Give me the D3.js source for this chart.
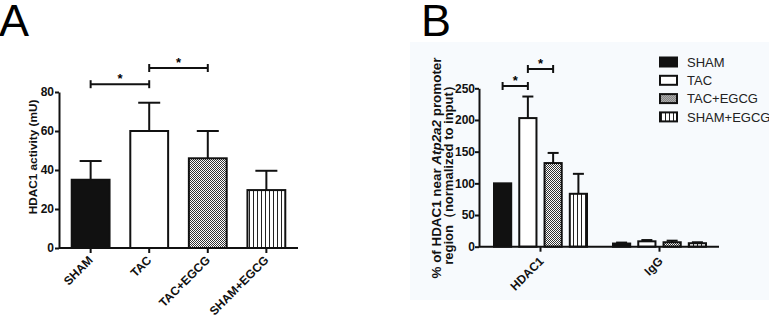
<!DOCTYPE html>
<html>
<head>
<meta charset="utf-8">
<script src="https://cdn.jsdelivr.net/npm/d3@7"></script>
<style>
  body { margin: 0; background: #fff; }
  svg { display: block; font-family: "Liberation Sans", Arial, sans-serif; }
</style>
</head>
<body>
<div id="chart"></div>
<script>
// ---- data ----
const groups = ["SHAM", "TAC", "TAC+EGCG", "SHAM+EGCG"];

// panel A: HDAC1 activity (mU)
const activityMean = [35, 60, 46, 29.7];
const activityErr = [44.6, 74.5, 60, 39.6];
const activityTicks = [0, 20, 40, 60, 80];
const activitySig = [["SHAM", "TAC", 84], ["TAC", "TAC+EGCG", 92.3]];

// panel B: ChIP, % of HDAC1 near Atp2a2 promoter
const chipTargets = ["HDAC1", "IgG"];
const chipHDAC1 = [100, 203, 132, 83.5];
const chipHDAC1Err = [100, 237, 148, 115];
const chipIgG = [5, 8.5, 7, 5.5];
const chipIgGErr = [6.5, 10.5, 9.5, 7];
const chipTicks = [0, 50, 100, 150, 200, 250];
const chipSig = [["SHAM", "TAC", 253.6], ["TAC", "TAC+EGCG", 280.5]];

const W = 769, H = 318;
const svg = d3.select("#chart").append("svg")
    .attr("width", W)
    .attr("height", H);

// patterns
const defs = svg.append("defs");
let checker = defs.append("pattern")
    .attr("id", "checker")
    .attr("width", 2).attr("height", 2)
    .attr("patternUnits", "userSpaceOnUse");
checker.append("rect").attr("width", 2).attr("height", 2).attr("fill", "#fff");
checker.append("rect").attr("width", 1).attr("height", 1).attr("fill", "#333");
checker.append("rect").attr("x", 1).attr("y", 1).attr("width", 1).attr("height", 1).attr("fill", "#333");

let stripes = defs.append("pattern")
    .attr("id", "stripes")
    .attr("width", 4).attr("height", 4)
    .attr("patternUnits", "userSpaceOnUse");
stripes.append("rect").attr("width", 4).attr("height", 4).attr("fill", "#fff");
stripes.append("rect").attr("x", 1).attr("width", 1).attr("height", 4).attr("fill", "#222");

const fills = d3.scaleOrdinal()
    .domain(groups)
    .range(["#111", "#fff", "url(#checker)", "url(#stripes)"]);

function sigBracket(g, x, y, pairs, capH, starSize) {
    pairs.forEach(p => {
        let x1 = x(p[0]), x2 = x(p[1]), yy = y(p[2]);
        g.append("line").attr("x1", x1).attr("x2", x2).attr("y1", yy).attr("y2", yy);
        g.append("line").attr("x1", x1).attr("x2", x1).attr("y1", yy - capH).attr("y2", yy + capH);
        g.append("line").attr("x1", x2).attr("x2", x2).attr("y1", yy - capH).attr("y2", yy + capH);
        g.append("text")
            .attr("x", (x1 + x2) / 2)
            .attr("y", yy - 1)
            .attr("text-anchor", "middle")
            .attr("stroke", "none")
            .attr("fill", "#000")
            .style("font-size", starSize + "px")
            .style("font-weight", "bold")
            .text("*");
    });
    g.attr("stroke", "#111").attr("stroke-width", 2);
}

function styleAxis(ax) {
    ax.select(".domain").attr("stroke", "#111").attr("stroke-width", 2);
    ax.selectAll(".tick line").attr("stroke", "#111").attr("stroke-width", 2);
}

// ================= Panel A =================
svg.append("text")
    .attr("x", -1).attr("y", 36)
    .style("font-size", "45px")
    .text("A");

let xA = d3.scaleBand()
    .domain(groups)
    .range([59, 298])
    .paddingInner(0.32)
    .paddingOuter(0.2);

let yA = d3.scaleLinear()
    .domain([0, 80])
    .range([248, 92]);

let gA = svg.append("g");

let dataA = groups.map((k, i) => ({key: k, v: activityMean[i], e: activityErr[i]}));

// error bars
gA.selectAll(".errA").data(dataA).enter().append("g")
    .each(function(d) {
        let cx = xA(d.key) + xA.bandwidth() / 2;
        let g = d3.select(this).attr("stroke", "#111").attr("stroke-width", 2);
        g.append("line").attr("x1", cx).attr("x2", cx).attr("y1", yA(d.v)).attr("y2", yA(d.e));
        g.append("line").attr("x1", cx - 11).attr("x2", cx + 11).attr("y1", yA(d.e)).attr("y2", yA(d.e));
    });

gA.selectAll(".barA").data(dataA).enter().append("rect")
    .attr("x", d => xA(d.key) + 1)
    .attr("width", xA.bandwidth() - 2)
    .attr("y", d => yA(d.v))
    .attr("height", d => yA(0) - yA(d.v))
    .attr("fill", d => fills(d.key))
    .attr("stroke", "#111")
    .attr("stroke-width", 2);

// axes
let yAxisA = gA.append("g")
    .attr("transform", "translate(59,0)")
    .call(d3.axisLeft(yA).tickValues(activityTicks).tickSize(4).tickSizeOuter(0));
let xAxisA = gA.append("g")
    .attr("transform", "translate(0,248)")
    .call(d3.axisBottom(xA).tickSize(5).tickSizeOuter(0).tickFormat(""));
styleAxis(yAxisA);
styleAxis(xAxisA);
xAxisA.select(".domain").attr("d", "M59,0H298");
yAxisA.selectAll("text")
    .attr("x", -5)
    .style("font-size", "12px")
    .style("font-weight", "bold")
    .attr("fill", "#111");

// rotated category labels
gA.selectAll(".labA").data(groups).enter().append("text")
    .attr("transform", d => `translate(${xA(d) + xA.bandwidth() / 2 + 3}, 261) rotate(-45)`)
    .attr("text-anchor", "end")
    .style("font-size", "12px")
    .style("font-weight", "bold")
    .attr("fill", "#111")
    .text(d => d);

gA.append("text")
    .attr("transform", "translate(37,157) rotate(-90)")
    .attr("text-anchor", "middle")
    .style("font-size", "11.8px")
    .style("font-weight", "bold")
    .attr("fill", "#111")
    .text("HDAC1 activity (mU)");

sigBracket(gA.append("g"), d => xA(d) + xA.bandwidth() / 2, yA, activitySig, 4, 13);

// ================= Panel B =================
svg.append("rect")
    .attr("x", 410).attr("y", 42)
    .attr("width", 359).attr("height", 258)
    .attr("fill", "#f7fafd");

svg.append("text")
    .attr("x", 421).attr("y", 36)
    .style("font-size", "45px")
    .text("B");

let x0 = d3.scaleBand()
    .domain(chipTargets)
    .range([481, 719]);

let x1 = d3.scaleBand()
    .domain(groups)
    .range([12, 107])
    .paddingInner(0.24);

let yB = d3.scaleLinear()
    .domain([0, 250])
    .range([246.7, 88.3]);

let gB = svg.append("g");

let chipMeans = {HDAC1: chipHDAC1, IgG: chipIgG};
let chipErrs = {HDAC1: chipHDAC1Err, IgG: chipIgGErr};
let dataB = [];
chipTargets.forEach(t => {
    groups.forEach((k, i) => {
        dataB.push({target: t, key: k, v: chipMeans[t][i], e: chipErrs[t][i]});
    });
});

gB.selectAll(".errB").data(dataB.filter(d => d.e > d.v)).enter().append("g")
    .each(function(d) {
        let cx = x0(d.target) + x1(d.key) + x1.bandwidth() / 2;
        let g = d3.select(this).attr("stroke", "#111").attr("stroke-width", 2);
        g.append("line").attr("x1", cx).attr("x2", cx).attr("y1", yB(d.v)).attr("y2", yB(d.e));
        g.append("line").attr("x1", cx - 5.5).attr("x2", cx + 5.5).attr("y1", yB(d.e)).attr("y2", yB(d.e));
    });

gB.selectAll(".barB").data(dataB).enter().append("rect")
    .attr("x", d => x0(d.target) + x1(d.key) + 1)
    .attr("width", x1.bandwidth() - 2)
    .attr("y", d => yB(d.v))
    .attr("height", d => yB(0) - yB(d.v))
    .attr("fill", d => fills(d.key))
    .attr("stroke", "#111")
    .attr("stroke-width", 2);

let yAxisB = gB.append("g")
    .attr("transform", "translate(479,0)")
    .call(d3.axisLeft(yB).tickValues(chipTicks).tickSize(4).tickSizeOuter(0));
let xAxisB = gB.append("g")
    .attr("transform", "translate(0,246.7)")
    .call(d3.axisBottom(x0).tickSize(5).tickSizeOuter(0).tickFormat(""));
styleAxis(yAxisB);
styleAxis(xAxisB);
xAxisB.select(".domain").attr("d", "M479,0H719");
yAxisB.selectAll("text")
    .attr("x", -4)
    .style("font-size", "12px")
    .style("font-weight", "bold")
    .attr("fill", "#111");

gB.selectAll(".labB").data(chipTargets).enter().append("text")
    .attr("transform", d => `translate(${x0(d) + x0.bandwidth() / 2 + 4}, 262) rotate(-45)`)
    .attr("text-anchor", "end")
    .style("font-size", "12px")
    .style("font-weight", "bold")
    .attr("fill", "#111")
    .text(d => d);

let titleB = gB.append("text")
    .attr("transform", "translate(441,168) rotate(-90)")
    .attr("text-anchor", "middle")
    .style("font-size", "13.4px")
    .style("font-weight", "bold")
    .attr("fill", "#111");
titleB.append("tspan").text("% of HDAC1 near ");
titleB.append("tspan").style("font-style", "italic").text("Atp2a2");
titleB.append("tspan").text(" promoter");

gB.append("text")
    .attr("transform", "translate(453,172) rotate(-90)")
    .attr("text-anchor", "middle")
    .style("font-size", "13px")
    .style("font-weight", "bold")
    .attr("fill", "#111")
    .text("region（normalized to input）");

sigBracket(gB.append("g"), d => x0("HDAC1") + x1(d) + x1.bandwidth() / 2, yB, chipSig, 4, 13);

// legend
let legend = gB.append("g").attr("transform", "translate(660,62)");
groups.forEach((k, i) => {
    let row = legend.append("g").attr("transform", `translate(0,${i * 18.3})`);
    row.append("rect")
        .attr("x", 0).attr("y", -4.5)
        .attr("width", 17).attr("height", 9)
        .attr("fill", fills(k))
        .attr("stroke", "#111")
        .attr("stroke-width", 2);
    row.append("text")
        .attr("x", 27).attr("y", 0)
        .attr("dy", "0.36em")
        .style("font-size", "13px")
        .attr("fill", "#222")
        .text(k);
});
</script>
</body>
</html>
